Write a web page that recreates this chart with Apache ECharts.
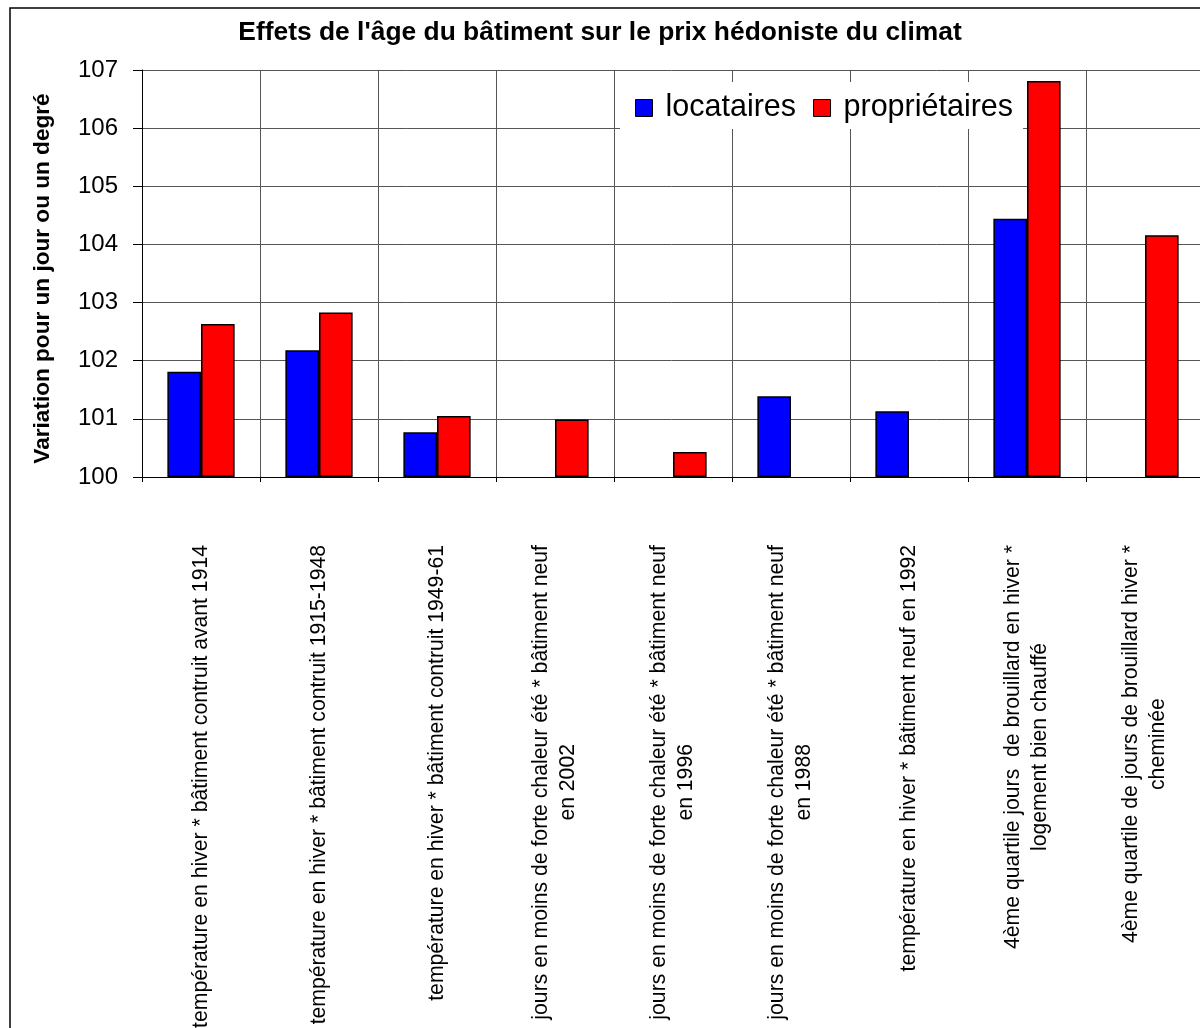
<!DOCTYPE html>
<html>
<head>
<meta charset="utf-8">
<script src="https://cdn.jsdelivr.net/npm/echarts@6/dist/echarts.min.js"></script>
<style>
html,body{margin:0;padding:0;background:#fff;overflow:hidden;}
#c{width:1200px;height:1028px;}
</style>
</head>
<body>
<div id="c"></div>
<script>
const categories = [
  "température en hiver * bâtiment contruit avant 1914",
  "température en hiver * bâtiment contruit 1915-1948",
  "température en hiver * bâtiment contruit 1949-61",
  "jours en moins de forte chaleur été * bâtiment neuf\nen 2002",
  "jours en moins de forte chaleur été * bâtiment neuf\nen 1996",
  "jours en moins de forte chaleur été * bâtiment neuf\nen 1988",
  "température en hiver * bâtiment neuf en 1992",
  "4ème quartile jours  de brouillard en hiver *\nlogement bien chauffé",
  "4ème quartile de jours de brouillard hiver *\ncheminée"
];
const locataires = [101.81, 102.18, 100.77, null, null, 101.39, 101.13, 104.44, null];
const proprietaires = [102.63, 102.83, 101.05, 100.99, 100.43, null, null, 106.81, 104.16];
const seriesNames = ["locataires", "propriétaires"];
const titleText = "Effets de l'âge du bâtiment sur le prix hédoniste du climat";
const yAxisName = "Variation pour un jour ou un degré";

const FONT = "'Liberation Sans', Arial, sans-serif";
const chart = echarts.init(document.getElementById('c'), null, {renderer: 'canvas'});
chart.setOption({
  animation: false,
  backgroundColor: '#fff',
  title: {
    text: titleText,
    left: 'center',
    top: 20,
    padding: 0,
    textStyle: {fontFamily: FONT, fontSize: 26.4, fontWeight: 'bold', color: '#000'}
  },
  graphic: [{
    type: 'rect',
    z: -10,
    shape: {x: 10, y: 8, width: 1400, height: 1400},
    style: {fill: 'none', stroke: '#000', lineWidth: 1.5}
  }],
  legend: {
    data: seriesNames,
    left: 620,
    top: 82,
    orient: 'horizontal',
    backgroundColor: '#fff',
    padding: [10, 10, 5, 15],
    itemWidth: 17,
    itemHeight: 17,
    itemGap: 17,
    icon: 'rect',
    itemStyle: {borderColor: '#000', borderWidth: 1},
    textStyle: {fontFamily: FONT, fontSize: 30.5, color: '#000', padding: [0, 0, 0, 8], lineHeight: 32},
    z: 10
  },
  grid: {left: 142, top: 70, width: 1062, height: 407, containLabel: false, outerBoundsMode: 'none'},
  xAxis: {
    type: 'category',
    data: categories,
    boundaryGap: true,
    axisLine: {show: true, lineStyle: {color: '#000', width: 1}},
    axisTick: {show: true, length: 5, lineStyle: {color: '#000'}},
    splitLine: {show: true, lineStyle: {color: '#555', width: 1}},
    axisLabel: {
      interval: 0,
      rotate: 90,
      margin: 68,
      color: '#000',
      fontFamily: FONT,
      fontSize: 21.2,
      formatter: function (v) {
        return v.split('\n').map(function (l) { return '{c|' + l + '}'; }).join('\n');
      },
      rich: {
        c: {align: 'center', fontFamily: FONT, fontSize: 21.2, lineHeight: 27, color: '#000'}
      }
    }
  },
  yAxis: {
    type: 'value',
    min: 100,
    max: 107,
    interval: 1,
    startValue: 100,
    name: yAxisName,
    nameLocation: 'middle',
    nameRotate: 90,
    nameGap: 88,
    nameTextStyle: {fontFamily: FONT, fontSize: 22.6, fontWeight: 'bold', color: '#000', padding: [0, 10, 0, 0]},
    axisLine: {show: true, lineStyle: {color: '#000', width: 1}},
    axisTick: {show: true, length: 9, inside: false, lineStyle: {color: '#000'}},
    splitLine: {show: true, lineStyle: {color: '#555', width: 1}},
    axisLabel: {margin: 24, color: '#000', fontFamily: FONT, fontSize: 24}
  },
  series: [
    {
      name: seriesNames[0],
      type: 'bar',
      data: locataires,
      barGap: '0%',
      barCategoryGap: '43%',
      itemStyle: {color: '#0000FF', borderColor: '#000', borderWidth: 1.5}
    },
    {
      name: seriesNames[1],
      type: 'bar',
      data: proprietaires,
      barGap: '0%',
      barCategoryGap: '43%',
      itemStyle: {color: '#FF0000', borderColor: '#000', borderWidth: 1.5}
    }
  ]
});
</script>
</body>
</html>
